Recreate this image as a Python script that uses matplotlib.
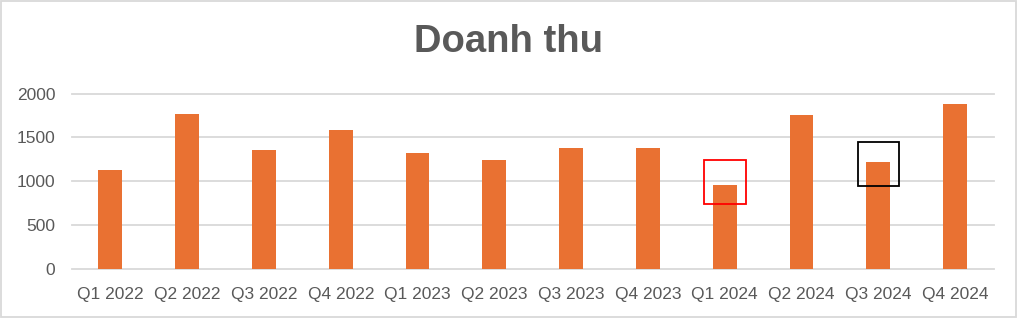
import matplotlib.pyplot as plt
from matplotlib.patches import Rectangle

# ============================================
# Data
# ============================================

quarters = ["Q1 2022", "Q2 2022", "Q3 2022", "Q4 2022",
            "Q1 2023", "Q2 2023", "Q3 2023", "Q4 2023",
            "Q1 2024", "Q2 2024", "Q3 2024", "Q4 2024"]
revenue = [1125, 1765, 1355, 1585, 1320, 1240, 1380, 1380, 955, 1755, 1220, 1880]
y_ticks = [0, 500, 1000, 1500, 2000]

# highlight boxes: (quarter, low value, high value, colour)
highlight_quarters = ["Q1 2024", "Q3 2024"]
highlight_low      = [740, 950]
highlight_high     = [1240, 1450]
highlight_colors   = ["#FF0000", "#000000"]

TITLE     = "Doanh thu"
BAR_COLOR = "#E97132"
TEXT_GREY = "#595959"
GRID_GREY = "#D9D9D9"

plt.rcParams["font.family"] = ["Liberation Sans", "DejaVu Sans"]

# ============================================
# Plot
# ============================================

fig = plt.figure(figsize=(10.18, 3.18), dpi=100)
ax = fig.add_axes([0.0707, 0.155, 0.9053, 0.5502])

x = list(range(len(quarters)))
ax.bar(x, revenue, width=0.31, color=BAR_COLOR, zorder=3)

for q, lo, hi, c in zip(highlight_quarters, highlight_low, highlight_high, highlight_colors):
    i = quarters.index(q)
    ax.add_patch(Rectangle((i - 0.27, lo), 0.54, hi - lo, fill=False,
                           edgecolor=c, linewidth=1.3, zorder=4))

ax.set_xlim(-0.5, len(quarters) - 0.5)
ax.set_ylim(0, 2000)
ax.set_yticks(y_ticks)
ax.set_xticks(x)
ax.set_xticklabels(quarters)

for y in y_ticks:
    ax.axhline(y, color=GRID_GREY, linewidth=1.3, zorder=1, clip_on=False)

for s in ax.spines.values():
    s.set_visible(False)
ax.tick_params(axis="both", length=0, colors=TEXT_GREY, labelsize=12.5)
ax.tick_params(axis="x", pad=13)
ax.tick_params(axis="y", pad=12)

fig.text(0.5, 0.868, TITLE, ha="center", va="center", fontsize=27.5,
         fontweight="bold", color=TEXT_GREY)

# chart border
fig.patches.append(Rectangle((0.0006, 0.002), 0.9975, 0.995, transform=fig.transFigure,
                             fill=False, edgecolor=GRID_GREY, linewidth=1.3))

fig.savefig("out.png", dpi=100)
